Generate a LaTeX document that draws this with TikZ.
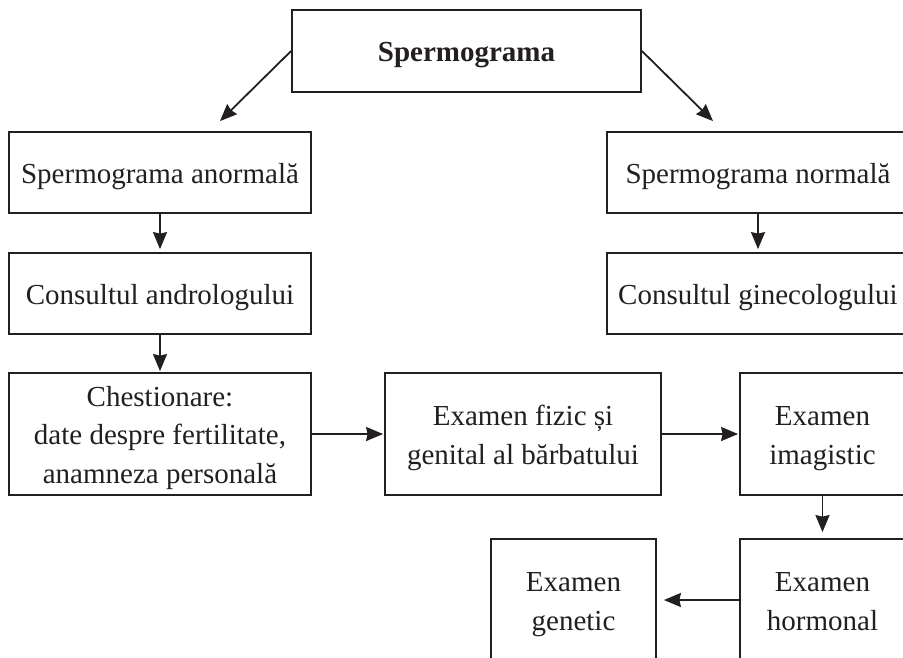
\documentclass[tikz,border=0pt]{standalone}
\usepackage{fontspec}
\setmainfont{Liberation Serif}
\usetikzlibrary{arrows.meta,calc}
\definecolor{ink}{HTML}{231F20}
\newcommand\mystrut{\rule[-6pt]{0pt}{34pt}}
\tikzset{
  box/.style={draw=ink, line width=1.8pt, rectangle, inner sep=0pt, align=center,
    text=ink, font=\fontsize{29}{38.5}\selectfont},
  conn/.style={draw=ink, line width=1.8pt, -{Stealth[inset=1.5pt,length=17pt,width=14pt]}}
}
\begin{document}
\begin{tikzpicture}[x=1pt,y=-1pt]
\useasboundingbox (0,0) rectangle (903,657);
\clip (0,0) rectangle (903,657);
\fill[white] (0,0) rectangle (903,657);
\node[box, minimum width=349pt, minimum height=82pt] (top) at (466.5,51) {\mystrut\textbf{Spermograma}\mystrut};
\node[box, minimum width=302pt, minimum height=81pt] (anorm) at (160,172.5) {\mystrut Spermograma anormală\mystrut};
\node[box, minimum width=302pt, minimum height=81pt] (norm) at (758,172.5) {\mystrut Spermograma normală\mystrut};
\node[box, minimum width=302pt, minimum height=81pt] (andro) at (160,293.5) {\mystrut Consultul andrologului\mystrut};
\node[box, minimum width=302pt, minimum height=81pt] (gine) at (758,293.5) {\mystrut Consultul ginecologului\mystrut};
\node[box, minimum width=302pt, minimum height=122pt] (chest) at (160,434) {\mystrut Chestionare:\\date despre fertilitate,\\anamneza personală\mystrut};
\node[box, minimum width=276pt, minimum height=122pt] (fizic) at (523,434) {\mystrut Examen fizic și\\genital al bărbatului\mystrut};
\node[box, minimum width=165pt, minimum height=122pt] (imag) at (822.5,434) {\mystrut Examen\\imagistic\mystrut};
\node[box, minimum width=165pt, minimum height=122pt] (horm) at (822.5,600) {\mystrut Examen\\hormonal\mystrut};
\node[box, minimum width=165pt, minimum height=122pt] (gen) at (573.5,600) {\mystrut Examen\\genetic\mystrut};
\draw[conn] (top.west) -- ($(anorm.north)+(60,-10)$);
\draw[conn] (top.east) -- ($(norm.north)+(-45,-10)$);
\draw[conn] (anorm.south) -- ($(andro.north)+(0,-3)$);
\draw[conn] (norm.south) -- ($(gine.north)+(0,-3)$);
\draw[conn] (andro.south) -- ($(chest.north)+(0,-1)$);
\draw[conn] (chest.east) -- ($(fizic.west)+(-1,0)$);
\draw[conn] (fizic.east) -- ($(imag.west)+(-1,0)$);
\draw[conn] (imag.south) -- ($(horm.north)+(0,-6)$);
\draw[conn] (horm.west) -- ($(gen.east)+(7,0)$);
\end{tikzpicture}
\end{document}
